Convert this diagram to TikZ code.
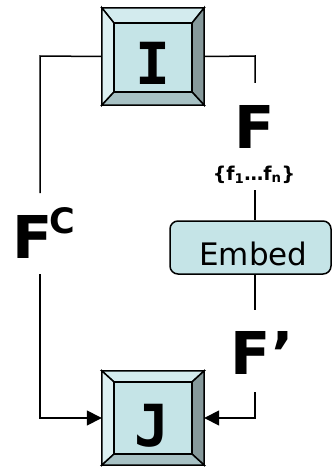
\documentclass[tikz,border=0pt]{standalone}
\usepackage{fontspec}
\setmainfont{DejaVu Sans}
\newfontfamily\monofont{DejaVu Sans Mono}
\usetikzlibrary{calc,arrows.meta,backgrounds}
\definecolor{face}{HTML}{C5E4E7}
\definecolor{bvtop}{HTML}{D3EBEE}
\definecolor{bvleft}{HTML}{DDF0F2}
\definecolor{bvright}{HTML}{86999B}
\definecolor{bvbottom}{HTML}{A7C1C4}
\newcommand\bevelbox[3]{%
  \coordinate (#1-inw) at ($(#1.north west)+(12,#2)$);
  \coordinate (#1-ine) at ($(#1.north east)+(-12,#2)$);
  \coordinate (#1-ise) at ($(#1.south east)+(-12,-#3)$);
  \coordinate (#1-isw) at ($(#1.south west)+(12,-#3)$);
  \filldraw[bevel,fill=bvtop] (#1.north west) -- (#1.north east) -- (#1-ine) -- (#1-inw) -- cycle;
  \filldraw[bevel,fill=bvleft] (#1.north west) -- (#1-inw) -- (#1-isw) -- (#1.south west) -- cycle;
  \filldraw[bevel,fill=bvright] (#1.north east) -- (#1.south east) -- (#1-ise) -- (#1-ine) -- cycle;
  \filldraw[bevel,fill=bvbottom] (#1.south west) -- (#1-isw) -- (#1-ise) -- (#1.south east) -- cycle;
  \filldraw[bevel,fill=face] (#1-inw) -- (#1-ine) -- (#1-ise) -- (#1-isw) -- cycle;
}
\begin{document}
\begin{tikzpicture}[x=1pt,y=-1pt,
  bevel/.style={draw=black,line width=1.5pt,line join=miter},
  boxnode/.style={draw=none,inner sep=0pt,minimum width=102pt},
  letter/.style={font=\monofont\bfseries\fontsize{58}{58}\selectfont,anchor=base,inner sep=0pt},
  biglbl/.style={font=\bfseries\fontsize{59}{59}\selectfont,anchor=base west,inner sep=0pt},
  conn/.style={line width=1.5pt,black},
  arr/.style={conn,-{Triangle[length=15pt,width=15pt]}},
  embedbox/.style={draw=black,line width=1.5pt,fill=face,rounded corners=8pt,
    minimum width=161pt,minimum height=53pt,inner sep=0pt}]
\useasboundingbox (0,0) rectangle (333,468);

\node[boxnode,minimum height=97pt] (I) at (153,56.5) {};
\node[boxnode,minimum height=94pt] (J) at (153,418) {};
\begin{scope}[on background layer]
  \bevelbox{I}{15}{13}
  \bevelbox{J}{11}{11}
\end{scope}
\node[letter] (Itext) at (153,85) {I};
\node[letter] (Jtext) at (152,446) {J};

\node[embedbox] (E) at (250.5,247.5) {};
\node[font=\fontsize{31}{31}\selectfont,anchor=base,inner sep=0pt] (Etext) at (253.5,265) {Embed};

\node[biglbl,anchor=base] (F) at (255,148) {F};
\node[font=\bfseries\fontsize{19}{19}\selectfont,anchor=base,inner sep=0pt] (fset) at (254,180) {\{f\textsubscript{1}…f\textsubscript{n}\}};
\node[biglbl] (FC) at (12,258) {F\kern-3pt\raisebox{25pt}{\fontsize{35}{35}\selectfont C}};
\node[biglbl] (Fp) at (230,374) {F’};

\coordinate (L1) at (40,56);
\coordinate (L2) at (40,193);
\coordinate (L3) at (40,274);
\coordinate (L4) at (40,418);
\coordinate (R1) at (255,56);
\coordinate (R2) at (255,83);
\coordinate (R3) at (255,190);
\coordinate (R4) at (255,310);
\coordinate (R5) at (255,392);
\coordinate (R6) at (255,418);

\draw[conn] (I.west) -- (L1) -- (L2);
\draw[arr] (L3) -- (L4) -- (J.west);
\draw[conn] (I.east) -- (R1) -- (R2);
\draw[conn] (R3) -- (R3 |- E.north);
\draw[conn] (R4 |- E.south) -- (R4);
\draw[arr] (R5) -- (R6) -- (J.east);
\end{tikzpicture}
\end{document}
